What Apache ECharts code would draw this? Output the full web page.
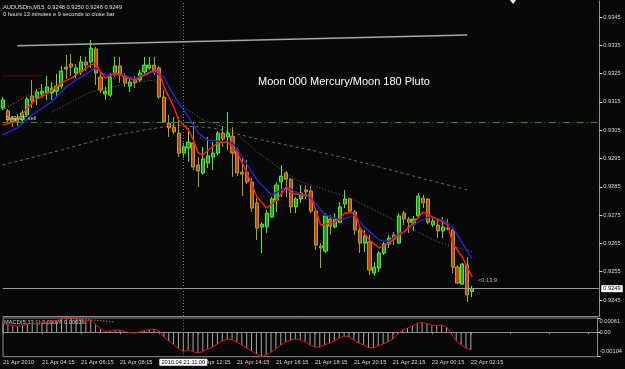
<!DOCTYPE html>
<html><head><meta charset="utf-8">
<script src="https://cdn.jsdelivr.net/npm/echarts@6/dist/echarts.min.js"></script>
<style>html,body{margin:0;padding:0;background:#080808;}#c{width:625px;height:369px;}</style>
</head><body><div id="c"></div>
<script>
// ---- data ----
const tickLabels = ['21 Apr 2010','21 Apr 04:15','21 Apr 06:15','21 Apr 08:15','21 Apr 10:15','21 Apr 12:15','21 Apr 14:15','21 Apr 16:15','21 Apr 18:15','21 Apr 20:15','21 Apr 22:15','22 Apr 00:15','22 Apr 02:15'];
const priceTicks = [0.9245,0.9255,0.9265,0.9275,0.9285,0.9295,0.9305,0.9315,0.9325,0.9335,0.9345];
const macdTicks = [0.00061, 0, -0.00104];

const opens = [0.93128,0.93118,0.93093,0.93079,0.93086,0.93104,0.93171,0.93164,0.93178,0.93181,
0.93181,0.93188,0.93206,0.93273,0.93284,0.93252,0.93256,0.93291,0.93291,0.93337,
0.93238,0.93178,0.93174,0.93245,0.93277,0.93242,0.93206,0.93231,0.93227,0.93256,
0.93270,0.93280,0.93270,0.93167,0.93075,0.93061,0.93040,0.92969,0.92987,0.93005,
0.92927,0.92899,0.92934,0.92955,0.92969,0.93040,0.93026,0.93029,0.92980,0.92902,
0.92902,0.92867,0.92793,0.92708,0.92708,0.92743,0.92803,0.92867,0.92899,0.92877,
0.92779,0.92807,0.92839,0.92835,0.92764,0.92641,0.92623,0.92736,0.92708,0.92725,
0.92789,0.92807,0.92761,0.92697,0.92651,0.92655,0.92545,0.92563,0.92616,0.92648,
0.92680,0.92651,0.92757,0.92736,0.92722,0.92747,0.92810,0.92807,0.92715,0.92715,
0.92694,0.92704,0.92697,0.92566,0.92506,0.92574,0.92480];
const highs = [0.93167,0.93125,0.93100,0.93107,0.93121,0.93167,0.93227,0.93196,0.93213,0.93242,
0.93220,0.93249,0.93277,0.93316,0.93319,0.93284,0.93312,0.93309,0.93369,0.93344,
0.93256,0.93203,0.93252,0.93309,0.93309,0.93252,0.93234,0.93242,0.93263,0.93309,
0.93309,0.93309,0.93277,0.93192,0.93104,0.93097,0.93097,0.93005,0.93058,0.93079,
0.92955,0.92991,0.93026,0.93008,0.93047,0.93065,0.93114,0.93061,0.92987,0.92952,
0.92945,0.92881,0.92810,0.92725,0.92768,0.92814,0.92867,0.92927,0.92906,0.92881,
0.92814,0.92856,0.92856,0.92853,0.92768,0.92651,0.92757,0.92750,0.92757,0.92796,
0.92839,0.92810,0.92768,0.92708,0.92697,0.92680,0.92584,0.92623,0.92655,0.92680,
0.92690,0.92757,0.92764,0.92743,0.92747,0.92828,0.92821,0.92810,0.92743,0.92733,
0.92743,0.92736,0.92701,0.92574,0.92581,0.92602,0.92500];
const lows = [0.93121,0.93075,0.93061,0.93065,0.93079,0.93097,0.93128,0.93139,0.93164,0.93157,
0.93157,0.93171,0.93196,0.93231,0.93242,0.93234,0.93245,0.93259,0.93270,0.93210,
0.93181,0.93157,0.93167,0.93238,0.93217,0.93203,0.93185,0.93199,0.93220,0.93245,
0.93263,0.93245,0.93160,0.93075,0.93026,0.93037,0.92955,0.92952,0.92938,0.92909,
0.92849,0.92892,0.92916,0.92909,0.92962,0.92991,0.92980,0.92885,0.92888,0.92817,
0.92860,0.92761,0.92662,0.92616,0.92687,0.92740,0.92761,0.92814,0.92814,0.92757,
0.92757,0.92793,0.92807,0.92757,0.92627,0.92563,0.92616,0.92680,0.92704,0.92722,
0.92775,0.92761,0.92680,0.92616,0.92619,0.92538,0.92535,0.92549,0.92609,0.92634,
0.92644,0.92648,0.92715,0.92687,0.92694,0.92743,0.92775,0.92718,0.92708,0.92669,
0.92669,0.92697,0.92545,0.92506,0.92503,0.92443,0.92460];
const closes = [0.93157,0.93086,0.93079,0.93093,0.93111,0.93160,0.93153,0.93185,0.93188,0.93203,
0.93199,0.93206,0.93259,0.93266,0.93273,0.93270,0.93291,0.93280,0.93340,0.93252,
0.93192,0.93188,0.93238,0.93277,0.93245,0.93217,0.93220,0.93217,0.93252,0.93280,
0.93280,0.93256,0.93167,0.93079,0.93058,0.93044,0.92969,0.92991,0.93008,0.92920,
0.92906,0.92948,0.92959,0.92969,0.93040,0.93019,0.93040,0.92969,0.92899,0.92895,
0.92867,0.92775,0.92704,0.92718,0.92757,0.92807,0.92856,0.92888,0.92877,0.92779,
0.92807,0.92828,0.92832,0.92764,0.92644,0.92634,0.92747,0.92711,0.92736,0.92779,
0.92807,0.92764,0.92697,0.92651,0.92676,0.92556,0.92566,0.92616,0.92648,0.92669,
0.92665,0.92747,0.92736,0.92725,0.92736,0.92817,0.92793,0.92725,0.92729,0.92694,
0.92708,0.92701,0.92566,0.92510,0.92577,0.92468,0.92490];

const redMA = [[0,0.93068],[3,0.93082],[5,0.93128],[7,0.93160],[9,0.93178],[12,0.93217],[14,0.93234],[16,0.93256],[18,0.93280],[19,0.93287],[20,0.93256],[21,0.93234],[23,0.93252],[25,0.93238],[27,0.93227],[29,0.93245],[31,0.93263],[32,0.93256],[33,0.93203],[34,0.93167],[35,0.93132],[36,0.93086],[38,0.93051],[39,0.93015],[40,0.92969],[41,0.92962],[42,0.92980],[44,0.93005],[46,0.93008],[48,0.92969],[50,0.92899],[52,0.92814],[54,0.92775],[56,0.92803],[58,0.92849],[59,0.92828],[61,0.92821],[63,0.92821],[64,0.92768],[65,0.92715],[68,0.92725],[70,0.92757],[72,0.92757],[73,0.92708],[75,0.92662],[77,0.92634],[79,0.92651],[81,0.92680],[82,0.92690],[84,0.92722],[86,0.92761],[88,0.92743],[90,0.92725],[91,0.92715],[92,0.92651],[94,0.92602],[95,0.92566],[96,0.92531]];
const blueMA = [[0,0.93033],[3,0.93058],[6,0.93104],[10,0.93150],[13,0.93203],[16,0.93238],[19,0.93270],[21,0.93245],[24,0.93245],[27,0.93234],[29,0.93245],[31,0.93256],[33,0.93238],[34,0.93203],[36,0.93146],[38,0.93097],[40,0.93040],[42,0.93015],[47,0.93005],[49,0.92955],[52,0.92874],[55,0.92821],[57,0.92839],[58,0.92849],[60,0.92832],[63,0.92810],[66,0.92750],[69,0.92733],[72,0.92750],[74,0.92708],[77,0.92662],[79,0.92658],[81,0.92683],[85,0.92725],[87,0.92743],[90,0.92733],[92,0.92708],[94,0.92651],[96,0.92595]];
const midMA = [[10,0.93114],[18,0.93185],[26,0.93217],[31,0.93227],[34,0.93167],[41,0.93086],[47,0.93051],[52,0.92973],[60,0.92874],[71,0.92810],[80,0.92733],[89,0.92655],[96,0.92620]];
const slowMA = [[0,0.92927],[12,0.92980],[23,0.93033],[35,0.93068],[43,0.93058],[53,0.93015],[63,0.92980],[70,0.92952],[81,0.92902],[87,0.92874],[95,0.92839]];
const yellowDots = [[0,0.93121],[8,0.93203]];
const redDots = [[0,0.93242],[8,0.93242]];
const trendLine = [[3,0.93348],[95,0.93386]];
const sellLevel = 0.93077;
const bidPrice = 0.9249;
const crossIndex = 37;

const macd = [0.00040,0.00033,0.00029,0.00025,0.00029,0.00035,0.00038,0.00038,0.00042,0.00044,
0.00046,0.00050,0.00057,0.00059,0.00061,0.00057,0.00055,0.00050,0.00052,0.00035,
0.00014,0.00003,0.00006,0.00010,0.00010,0.00003,-0.00001,-0.00003,0.00001,0.00008,
0.00012,0.00014,0.00006,-0.00020,-0.00037,-0.00052,-0.00069,-0.00082,-0.00075,-0.00082,
-0.00088,-0.00082,-0.00071,-0.00063,-0.00050,-0.00037,-0.00029,-0.00031,-0.00041,-0.00054,
-0.00067,-0.00080,-0.00093,-0.00104,-0.00097,-0.00084,-0.00071,-0.00054,-0.00041,-0.00033,
-0.00029,-0.00033,-0.00041,-0.00054,-0.00063,-0.00063,-0.00054,-0.00046,-0.00037,-0.00024,
-0.00016,-0.00020,-0.00033,-0.00046,-0.00054,-0.00065,-0.00067,-0.00058,-0.00050,-0.00041,
-0.00029,-0.00007,0.00010,0.00018,0.00027,0.00038,0.00042,0.00038,0.00031,0.00029,
0.00031,0.00023,-0.00007,-0.00037,-0.00054,-0.00067,-0.00075];
const macdYellow = [[12,0.00064],[23,0.00044]];

// ---- build ----
const N = 123;
const categories = [];
for (let i = 0; i < N; i++) {
  const m = 135 + 15 * i; const d = m >= 1440 ? 22 : 21; const mm = m % 1440;
  categories.push(d + ' Apr ' + String(Math.floor(mm / 60)).padStart(2, '0') + ':' + String(mm % 60).padStart(2, '0'));
}
const candles = opens.map((o, i) => [o, closes[i], lows[i], highs[i]]);
const FONT = 'Liberation Sans';
const small = 5.7;
const axisGrey = '#8c8c8c';
const lblStyle = {color: '#d8d8d8', fontSize: small, fontFamily: FONT};

const chart = echarts.init(document.getElementById('c'), null, {renderer: 'canvas'});
chart.setOption({
  backgroundColor: '#080808',
  animation: false,
  grid: [
    {left: 2.7, right: 25.7, top: 1, height: 315},
    {left: 2.7, right: 25.7, top: 318, height: 38.7, show: true, borderColor: axisGrey, borderWidth: 1}
  ],
  xAxis: [
    {type: 'category', gridIndex: 0, data: categories, boundaryGap: false,
     axisLine: {show: true, lineStyle: {color: axisGrey}}, axisTick: {show: false}, axisLabel: {show: false}, splitLine: {show: false}},
    {type: 'category', gridIndex: 1, data: categories, boundaryGap: false,
     axisLine: {show: true, lineStyle: {color: axisGrey}},
     axisTick: {show: true, interval: 7, length: 2, lineStyle: {color: axisGrey}},
     axisLabel: {show: true, interval: 7, align: 'left', margin: 3, color: '#d8d8d8', fontSize: small, fontFamily: FONT,
       formatter: (v, idx) => tickLabels[idx / 8] || ''},
     splitLine: {show: false}}
  ],
  yAxis: [
    {type: 'value', gridIndex: 0, position: 'right', min: 0.923935, max: 0.935065,
     axisLine: {show: true, lineStyle: {color: axisGrey}},
     axisTick: {show: true, length: 3, customValues: priceTicks, lineStyle: {color: '#d0d0d0'}},
     axisLabel: {show: true, customValues: priceTicks, margin: 4, color: '#d8d8d8', fontSize: small, fontFamily: FONT,
       formatter: v => v.toFixed(4)},
     splitLine: {show: false}},
    {type: 'value', gridIndex: 1, position: 'right', min: -0.00104, max: 0.00061,
     axisLine: {show: true, lineStyle: {color: axisGrey}},
     axisTick: {show: true, length: 3, customValues: macdTicks, lineStyle: {color: '#d0d0d0'}},
     axisLabel: {show: true, customValues: macdTicks, margin: 2, color: '#d8d8d8', fontSize: small, fontFamily: FONT,
       formatter: v => v === 0 ? '{m|0.00}' : (v > 0 ? '{t|' + v.toFixed(5) + '}' : '{b|' + v.toFixed(5) + '}'),
       rich: {
         m: lblStyle,
         t: Object.assign({padding: [7, 0, 0, 0]}, lblStyle),
         b: Object.assign({padding: [0, 0, 10, 0]}, lblStyle)
       }},
     splitLine: {show: false}}
  ],
  series: [
    {type: 'line', xAxisIndex: 0, yAxisIndex: 0, data: slowMA, symbol: 'none', z: 1,
     lineStyle: {color: '#6a6a6a', width: 1, type: [3, 3]}},
    {type: 'line', xAxisIndex: 0, yAxisIndex: 0, data: midMA, symbol: 'none', z: 1,
     lineStyle: {color: '#6a6a6a', width: 1, type: [1, 2]}},
    {type: 'line', xAxisIndex: 0, yAxisIndex: 0, data: yellowDots, symbol: 'none', z: 1,
     lineStyle: {color: '#a0a020', width: 1, type: [1, 2]}},
    {type: 'line', xAxisIndex: 0, yAxisIndex: 0, data: redDots, symbol: 'none', z: 1,
     lineStyle: {color: '#b01010', width: 1, type: [1, 1]}},
    {type: 'line', xAxisIndex: 0, yAxisIndex: 0, data: trendLine, symbol: 'none', z: 1,
     lineStyle: {color: '#a8a8a8', width: 1.5},
     markLine: {symbol: 'none', silent: true, precision: 6, data: [
       {yAxis: sellLevel, lineStyle: {color: '#1e9e1e', width: 1, type: [7, 3, 1, 3]},
        label: {show: true, position: 'insideStartTop', distance: [3, 1], formatter: '0.93077 sell', color: '#d0d0d0', fontSize: small, fontFamily: FONT}},
       {yAxis: bidPrice, lineStyle: {color: '#9a9a9a', width: 1, type: 'solid'},
        label: {show: true, position: 'end', distance: 2, formatter: '0.9249', color: '#000', backgroundColor: '#ffffff', padding: [1, 2, 0, 2], fontSize: small, fontFamily: FONT}},
       {xAxis: crossIndex, lineStyle: {color: '#7a7a7a', width: 1, type: [1, 2]}, label: {show: false}}
     ]}},
    {type: 'candlestick', xAxisIndex: 0, yAxisIndex: 0, data: candles, barWidth: 3.6, z: 2,
     itemStyle: {color: '#259a25', borderColor: '#55ee22', color0: '#c8401c', borderColor0: '#a8a818', borderWidth: 1}},
    {type: 'line', xAxisIndex: 0, yAxisIndex: 0, data: blueMA, symbol: 'none', z: 3,
     lineStyle: {color: '#2424c8', width: 1.5}},
    {type: 'line', xAxisIndex: 0, yAxisIndex: 0, data: redMA, symbol: 'none', z: 4,
     lineStyle: {color: '#ff1a1a', width: 1.5}},
    {type: 'bar', xAxisIndex: 1, yAxisIndex: 1, data: macd, barWidth: 1, z: 2,
     itemStyle: {color: '#a8a8a8'},
     markLine: {symbol: 'none', silent: true, data: [
       {xAxis: crossIndex, lineStyle: {color: '#7a7a7a', width: 1, type: [1, 2]},
        label: {show: true, position: 'start', distance: 2, formatter: '2010.04.21 11:00', color: '#000', backgroundColor: '#ffffff', padding: [1, 2, 0, 2], fontSize: small, fontFamily: FONT}}
     ]}},
    {type: 'line', xAxisIndex: 1, yAxisIndex: 1, data: macd, symbol: 'none', z: 3,
     lineStyle: {color: '#e01010', width: 1}},
    {type: 'line', xAxisIndex: 1, yAxisIndex: 1, data: macdYellow, symbol: 'none', z: 3,
     lineStyle: {color: '#c8c820', width: 1, type: [1, 2]}}
  ],
  graphic: [
    {type: 'text', left: 3, top: 4, style: {text: 'AUDUSDm,M15  0.9248 0.9250 0.9246 0.9249', fill: '#e0e0e0', font: small + 'px "' + FONT + '"'}},
    {type: 'text', left: 3, top: 11, style: {text: '0 hours 13 minutes e 9 seconds to close bar', fill: '#e0e0e0', font: small + 'px "' + FONT + '"'}},
    {type: 'text', left: 258, top: 76, style: {text: 'Moon 000 Mercury/Moon 180 Pluto', fill: '#ffffff', font: '11px "' + FONT + '"'}},
    {type: 'text', left: 478, top: 277, style: {text: '<0:13:9', fill: '#b0b0b0', font: small + 'px "' + FONT + '"'}},
    {type: 'text', left: 4, top: 319, style: {text: 'MACD(5,13,1) 0.00076 0.00036', fill: '#d8d8d8', font: small + 'px "' + FONT + '"'}},
    {type: 'polygon', shape: {points: [[510, 0], [516, 0], [513, 4]]}, style: {fill: '#ffffff'}}
  ]
});
</script></body></html>
